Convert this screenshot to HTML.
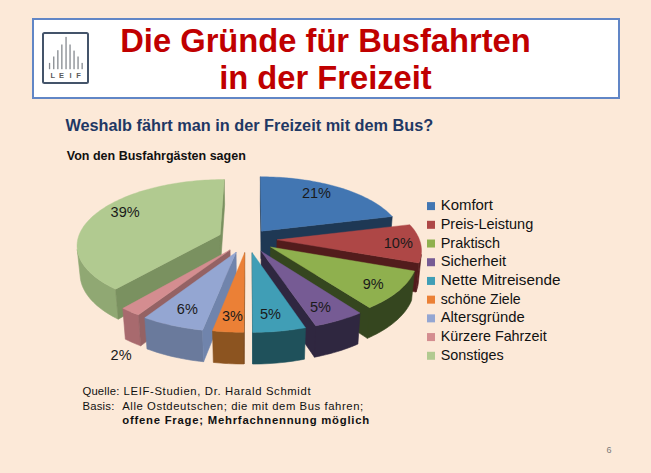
<!DOCTYPE html>
<html><head><meta charset="utf-8"><style>
html,body{margin:0;padding:0}
body{width:651px;height:473px;overflow:hidden;background:#FCE9D8;font-family:"Liberation Sans",sans-serif;position:relative}
.abs{position:absolute;white-space:nowrap}
svg{position:absolute;left:0;top:0}
.lg{font-size:15px;fill:#111;}
.pl{font-size:14.5px;fill:#1a1a1a}
</style></head><body>
<svg width="651" height="473" viewBox="0 0 651 473">
<rect x="33" y="19" width="586" height="79" fill="#fff" stroke="#6186C6" stroke-width="2"/>
<rect x="43" y="33" width="45" height="50" fill="#fff" stroke="#44546A" stroke-width="2" rx="1.5"/>
<rect x="48.9" y="62.9" width="1.3" height="6.3" fill="#868a90"/>
<rect x="53.1" y="56.5" width="1.3" height="12.7" fill="#868a90"/>
<rect x="57.2" y="50.2" width="1.3" height="19.0" fill="#868a90"/>
<rect x="61.2" y="44.5" width="1.3" height="24.7" fill="#868a90"/>
<rect x="65.4" y="36.9" width="1.3" height="32.3" fill="#868a90"/>
<rect x="69.4" y="44.5" width="1.3" height="24.7" fill="#868a90"/>
<rect x="73.4" y="50.6" width="1.3" height="18.6" fill="#868a90"/>
<rect x="77.4" y="56.5" width="1.3" height="12.7" fill="#868a90"/>
<rect x="81.5" y="62.9" width="1.3" height="6.3" fill="#868a90"/>
<g font-family="Liberation Sans" font-size="7.5" font-weight="bold" fill="#5a5a5a" text-anchor="middle"><text x="52.7" y="77.6">L</text><text x="61.6" y="77.6">E</text><text x="70.5" y="77.6">I</text><text x="78.5" y="77.6">F</text></g>
<g font-family="Liberation Sans" font-weight="bold" font-size="32.7" fill="#C00000" text-anchor="middle">
<text x="325.5" y="51.5">Die Gründe für Busfahrten</text>
<text x="325.5" y="89.3">in der Freizeit</text>
</g>
<text x="65.4" y="130.9" font-family="Liberation Sans" font-weight="bold" font-size="16.3" fill="#1F3864">Weshalb fährt man in der Freizeit mit dem Bus?</text>
<text x="66.8" y="160.4" font-family="Liberation Sans" font-weight="bold" font-size="12.5" fill="#111">Von den Busfahrgästen sagen</text>
<path d="M261.38,231.14 L260.40,176.76 L260.30,201.83 L261.25,258.73Z M261.38,231.14 L392.24,216.51 L390.00,243.44 L261.25,258.73Z" fill="#1E3854" stroke="#1E3854" stroke-width="0.6" stroke-linejoin="round"/>
<polygon points="261.38,231.14 260.40,176.76 263.59,176.78 266.78,176.83 269.96,176.91 273.14,177.02 276.32,177.17 279.48,177.34 282.65,177.55 285.80,177.79 288.94,178.07 292.07,178.37 295.19,178.71 298.29,179.08 301.38,179.48 304.45,179.91 307.50,180.37 310.53,180.87 313.54,181.39 316.52,181.95 319.49,182.54 322.42,183.16 325.33,183.81 328.21,184.49 331.06,185.20 333.88,185.94 336.66,186.72 339.41,187.52 342.12,188.35 344.80,189.21 347.43,190.11 350.03,191.03 352.58,191.98 355.09,192.96 357.55,193.96 359.97,195.00 362.33,196.06 364.65,197.15 366.91,198.27 369.12,199.41 371.28,200.58 373.38,201.78 375.42,203.00 377.40,204.24 379.32,205.52 381.17,206.81 382.96,208.13 384.68,209.47 386.34,210.84 387.92,212.22 389.44,213.63 390.88,215.06 392.24,216.51" fill="#4276B2" stroke="#4276B2" stroke-width="0.4" stroke-linejoin="round"/>
<path d="M115.58,289.17 L112.81,287.84 L110.13,286.47 L107.55,285.08 L105.07,283.65 L102.69,282.20 L100.41,280.72 L98.24,279.21 L96.17,277.68 L94.20,276.13 L92.34,274.56 L90.59,272.96 L88.94,271.35 L87.40,269.73 L85.97,268.08 L84.64,266.43 L83.43,264.76 L82.32,263.09 L81.32,261.40 L80.42,259.71 L79.63,258.01 L78.95,256.31 L78.37,254.60 L77.90,252.90 L77.53,251.19 L77.26,249.48 L80.32,277.87 L80.59,279.65 L80.96,281.43 L81.44,283.21 L82.02,284.99 L82.70,286.76 L83.49,288.53 L84.38,290.29 L85.37,292.05 L86.47,293.80 L87.68,295.53 L88.99,297.25 L90.40,298.96 L91.93,300.66 L93.55,302.33 L95.28,303.99 L97.12,305.63 L99.06,307.24 L101.10,308.84 L103.24,310.40 L105.48,311.94 L107.83,313.46 L110.27,314.94 L112.81,316.39 L115.45,317.81 L118.18,319.19Z" fill="#90A873" stroke="#90A873" stroke-width="0.6" stroke-linejoin="round"/>
<path d="M220.12,234.70 L115.58,289.17 L118.18,319.19 L220.68,262.45Z M220.12,234.70 L224.21,179.50 L224.64,204.70 L220.68,262.45Z" fill="#7A9160" stroke="#7A9160" stroke-width="0.6" stroke-linejoin="round"/>
<polygon points="220.12,234.70 115.58,289.17 112.81,287.84 110.13,286.47 107.55,285.08 105.07,283.65 102.69,282.20 100.41,280.72 98.24,279.21 96.17,277.68 94.20,276.13 92.34,274.56 90.59,272.96 88.94,271.35 87.40,269.73 85.97,268.08 84.64,266.43 83.43,264.76 82.32,263.09 81.32,261.40 80.42,259.71 79.63,258.01 78.95,256.31 78.37,254.60 77.90,252.90 77.53,251.19 77.26,249.48 77.10,247.78 77.03,246.08 77.07,244.38 77.20,242.69 77.44,241.00 77.76,239.33 78.19,237.66 78.71,236.00 79.32,234.36 80.02,232.73 80.81,231.11 81.69,229.50 82.65,227.91 83.70,226.33 84.84,224.78 86.05,223.24 87.35,221.71 88.72,220.21 90.17,218.73 91.70,217.26 93.30,215.82 94.97,214.40 96.71,213.00 98.52,211.63 100.40,210.28 102.34,208.95 104.35,207.65 106.41,206.37 108.54,205.12 110.72,203.90 112.96,202.70 115.26,201.53 117.61,200.38 120.01,199.27 122.46,198.18 124.96,197.12 127.50,196.09 130.09,195.09 132.73,194.11 135.40,193.17 138.12,192.26 140.87,191.37 143.66,190.52 146.49,189.70 149.35,188.91 152.24,188.15 155.16,187.42 158.11,186.72 161.09,186.05 164.10,185.42 167.13,184.82 170.18,184.24 173.25,183.70 176.35,183.20 179.46,182.72 182.59,182.28 185.74,181.87 188.90,181.49 192.07,181.15 195.26,180.84 198.45,180.56 201.66,180.31 204.87,180.10 208.08,179.92 211.31,179.77 214.53,179.65 217.76,179.57 220.98,179.52 224.21,179.50" fill="#B1CA90" stroke="#B1CA90" stroke-width="0.4" stroke-linejoin="round"/>
<path d="M421.28,254.39 L421.02,256.13 L420.65,257.87 L420.17,259.61 L419.60,261.35 L418.91,263.09 L415.96,292.05 L416.64,290.24 L417.22,288.43 L417.69,286.61 L418.07,284.80 L418.34,282.98Z" fill="#561D1D" stroke="#561D1D" stroke-width="0.6" stroke-linejoin="round"/>
<path d="M276.98,239.83 L418.91,263.09 L415.96,292.05 L276.58,267.80Z" fill="#521C1C" stroke="#521C1C" stroke-width="0.6" stroke-linejoin="round"/>
<polygon points="276.98,239.83 409.79,224.63 411.17,226.15 412.46,227.70 413.68,229.26 414.82,230.84 415.87,232.44 416.84,234.06 417.72,235.69 418.51,237.34 419.21,239.00 419.82,240.67 420.34,242.35 420.77,244.05 421.10,245.75 421.33,247.47 421.47,249.19 421.51,250.92 421.45,252.65 421.28,254.39 421.02,256.13 420.65,257.87 420.17,259.61 419.60,261.35 418.91,263.09" fill="#AE4746" stroke="#AE4746" stroke-width="0.4" stroke-linejoin="round"/>
<path d="M414.49,271.01 L413.68,272.77 L412.78,274.53 L411.76,276.28 L410.64,278.03 L409.42,279.76 L408.08,281.48 L406.65,283.19 L405.10,284.89 L403.45,286.57 L401.70,288.23 L399.84,289.88 L397.87,291.51 L395.80,293.11 L393.63,294.69 L391.35,296.25 L388.98,297.78 L386.50,299.28 L383.92,300.75 L381.25,302.20 L378.48,303.61 L375.62,304.98 L372.66,306.32 L369.62,307.63 L367.35,338.37 L370.35,337.02 L373.25,335.62 L376.06,334.20 L378.79,332.73 L381.41,331.23 L383.95,329.70 L386.38,328.14 L388.72,326.55 L390.96,324.93 L393.10,323.29 L395.14,321.62 L397.08,319.93 L398.91,318.22 L400.64,316.49 L402.27,314.74 L403.80,312.98 L405.22,311.20 L406.53,309.41 L407.75,307.60 L408.86,305.79 L409.86,303.97 L410.77,302.14 L411.57,300.30Z M270.54,246.99 L369.62,307.63 L367.35,338.37 L270.24,275.27Z" fill="#35461F" stroke="#35461F" stroke-width="0.6" stroke-linejoin="round"/>
<polygon points="270.54,246.99 414.49,271.01 413.68,272.77 412.78,274.53 411.76,276.28 410.64,278.03 409.42,279.76 408.08,281.48 406.65,283.19 405.10,284.89 403.45,286.57 401.70,288.23 399.84,289.88 397.87,291.51 395.80,293.11 393.63,294.69 391.35,296.25 388.98,297.78 386.50,299.28 383.92,300.75 381.25,302.20 378.48,303.61 375.62,304.98 372.66,306.32 369.62,307.63" fill="#8FB04E" stroke="#8FB04E" stroke-width="0.4" stroke-linejoin="round"/>
<path d="M138.45,314.85 L135.14,313.64 L131.92,312.38 L128.79,311.08 L125.75,309.75 L122.80,308.37 L125.35,339.15 L128.25,340.57 L131.23,341.96 L134.31,343.30 L137.47,344.61 L140.72,345.87Z" fill="#A86A6E" stroke="#A86A6E" stroke-width="0.6" stroke-linejoin="round"/>
<path d="M230.07,249.92 L138.45,314.85 L140.72,345.87 L230.48,278.32Z" fill="#946264" stroke="#946264" stroke-width="0.6" stroke-linejoin="round"/>
<polygon points="230.07,249.92 138.45,314.85 135.14,313.64 131.92,312.38 128.79,311.08 125.75,309.75 122.80,308.37" fill="#D48D90" stroke="#D48D90" stroke-width="0.4" stroke-linejoin="round"/>
<path d="M360.03,313.08 L356.78,314.40 L353.44,315.67 L350.01,316.90 L346.49,318.09 L342.90,319.22 L339.22,320.31 L335.47,321.35 L331.65,322.34 L327.76,323.28 L323.80,324.16 L319.78,324.99 L315.71,325.77 L314.45,357.19 L318.45,356.39 L322.39,355.53 L326.27,354.61 L330.08,353.64 L333.83,352.62 L337.51,351.54 L341.11,350.41 L344.64,349.23 L348.09,348.00 L351.46,346.72 L354.74,345.40 L357.93,344.04Z M261.16,251.25 L315.71,325.77 L314.45,357.19 L261.02,279.72Z" fill="#2F2740" stroke="#2F2740" stroke-width="0.6" stroke-linejoin="round"/>
<polygon points="261.16,251.25 360.03,313.08 356.78,314.40 353.44,315.67 350.01,316.90 346.49,318.09 342.90,319.22 339.22,320.31 335.47,321.35 331.65,322.34 327.76,323.28 323.80,324.16 319.78,324.99 315.71,325.77" fill="#765B94" stroke="#765B94" stroke-width="0.4" stroke-linejoin="round"/>
<path d="M202.55,330.15 L198.34,329.70 L194.16,329.19 L190.03,328.62 L185.94,328.00 L181.89,327.33 L177.90,326.60 L173.96,325.82 L170.07,324.98 L166.25,324.09 L162.50,323.15 L158.81,322.17 L155.19,321.13 L151.65,320.05 L148.19,318.92 L144.80,317.75 L146.96,348.88 L150.28,350.09 L153.68,351.26 L157.16,352.39 L160.70,353.46 L164.32,354.48 L168.00,355.46 L171.75,356.38 L175.56,357.24 L179.42,358.06 L183.33,358.81 L187.30,359.51 L191.31,360.16 L195.36,360.74 L199.46,361.27 L203.58,361.73Z" fill="#6A7A9C" stroke="#6A7A9C" stroke-width="0.6" stroke-linejoin="round"/>
<path d="M236.08,252.15 L202.55,330.15 L203.58,361.73 L236.38,280.65Z" fill="#7084AC" stroke="#7084AC" stroke-width="0.6" stroke-linejoin="round"/>
<polygon points="236.08,252.15 202.55,330.15 198.34,329.70 194.16,329.19 190.03,328.62 185.94,328.00 181.89,327.33 177.90,326.60 173.96,325.82 170.07,324.98 166.25,324.09 162.50,323.15 158.81,322.17 155.19,321.13 151.65,320.05 148.19,318.92 144.80,317.75" fill="#94A6D2" stroke="#94A6D2" stroke-width="0.4" stroke-linejoin="round"/>
<path d="M305.50,327.70 L301.63,328.38 L297.71,329.00 L293.75,329.58 L289.75,330.10 L285.72,330.57 L281.66,330.99 L277.58,331.35 L273.47,331.66 L269.34,331.92 L265.20,332.12 L261.05,332.27 L256.88,332.36 L252.72,332.39 L252.73,364.06 L256.81,364.02 L260.89,363.93 L264.96,363.78 L269.02,363.57 L273.06,363.30 L277.08,362.98 L281.09,362.60 L285.06,362.17 L289.01,361.68 L292.93,361.14 L296.81,360.55 L300.65,359.90 L304.45,359.20Z" fill="#1F515B" stroke="#1F515B" stroke-width="0.6" stroke-linejoin="round"/>
<path d="M252.20,252.69 L252.72,332.39 L252.73,364.06 L252.22,281.22Z" fill="#1E5662" stroke="#1E5662" stroke-width="0.6" stroke-linejoin="round"/>
<polygon points="252.20,252.69 305.50,327.70 301.63,328.38 297.71,329.00 293.75,329.58 289.75,330.10 285.72,330.57 281.66,330.99 277.58,331.35 273.47,331.66 269.34,331.92 265.20,332.12 261.05,332.27 256.88,332.36 252.72,332.39" fill="#409EB6" stroke="#409EB6" stroke-width="0.4" stroke-linejoin="round"/>
<path d="M243.88,332.31 L239.92,332.30 L235.97,332.23 L232.02,332.12 L228.09,331.95 L224.17,331.74 L220.26,331.48 L216.37,331.17 L212.51,330.81 L213.34,362.42 L217.13,362.79 L220.93,363.11 L224.76,363.38 L228.60,363.61 L232.46,363.78 L236.32,363.89 L240.19,363.96 L244.07,363.98Z" fill="#8C5420" stroke="#8C5420" stroke-width="0.6" stroke-linejoin="round"/>
<path d="M244.64,252.63 L243.88,332.31 L244.07,363.98 L244.80,281.15Z" fill="#7A4A20" stroke="#7A4A20" stroke-width="0.6" stroke-linejoin="round"/>
<polygon points="244.64,252.63 243.88,332.31 239.92,332.30 235.97,332.23 232.02,332.12 228.09,331.95 224.17,331.74 220.26,331.48 216.37,331.17 212.51,330.81" fill="#EB8036" stroke="#EB8036" stroke-width="0.4" stroke-linejoin="round"/>
<g class="pl" font-family="Liberation Sans"><text x="316.5" y="198.4" text-anchor="middle">21%</text>
<text x="398.3" y="248.4" text-anchor="middle">10%</text>
<text x="373.2" y="288.9" text-anchor="middle">9%</text>
<text x="320.5" y="311.6" text-anchor="middle">5%</text>
<text x="270.4" y="319.2" text-anchor="middle">5%</text>
<text x="232.5" y="320.6" text-anchor="middle">3%</text>
<text x="187.3" y="313.7" text-anchor="middle">6%</text>
<text x="121.1" y="360" text-anchor="middle">2%</text>
<text x="125.1" y="216.7" text-anchor="middle">39%</text></g>
<g font-family="Liberation Sans"><rect x="427" y="202.10" width="8" height="8" fill="#4276B2"/>
<text x="440.7" y="210.10" class="lg" textLength="52.3" lengthAdjust="spacingAndGlyphs">Komfort</text>
<rect x="427" y="220.81" width="8" height="8" fill="#AE4746"/>
<text x="440.7" y="228.81" class="lg" textLength="92.5" lengthAdjust="spacingAndGlyphs">Preis-Leistung</text>
<rect x="427" y="239.52" width="8" height="8" fill="#8FB04E"/>
<text x="440.7" y="247.52" class="lg" textLength="59.4" lengthAdjust="spacingAndGlyphs">Praktisch</text>
<rect x="427" y="258.23" width="8" height="8" fill="#765B94"/>
<text x="440.7" y="266.23" class="lg" textLength="65.4" lengthAdjust="spacingAndGlyphs">Sicherheit</text>
<rect x="427" y="276.94" width="8" height="8" fill="#409EB6"/>
<text x="440.7" y="284.94" class="lg" textLength="119.7" lengthAdjust="spacingAndGlyphs">Nette Mitreisende</text>
<rect x="427" y="295.65" width="8" height="8" fill="#EB8036"/>
<text x="440.7" y="303.65" class="lg" textLength="80.0" lengthAdjust="spacingAndGlyphs">schöne Ziele</text>
<rect x="427" y="314.36" width="8" height="8" fill="#94A6D2"/>
<text x="440.7" y="322.36" class="lg" textLength="84.0" lengthAdjust="spacingAndGlyphs">Altersgründe</text>
<rect x="427" y="333.07" width="8" height="8" fill="#D48D90"/>
<text x="440.7" y="341.07" class="lg" textLength="106.0" lengthAdjust="spacingAndGlyphs">Kürzere Fahrzeit</text>
<rect x="427" y="351.78" width="8" height="8" fill="#B1CA90"/>
<text x="440.7" y="359.78" class="lg" textLength="63.1" lengthAdjust="spacingAndGlyphs">Sonstiges</text></g>
<g font-family="Liberation Sans" font-size="11.3" fill="#111">
<text x="82.4" y="395.2" textLength="37" lengthAdjust="spacing">Quelle:</text><text x="123.6" y="395.2" textLength="187" lengthAdjust="spacing">LEIF-Studien, Dr. Harald Schmidt</text>
<text x="82.4" y="409.6" textLength="32" lengthAdjust="spacing">Basis:</text><text x="122.2" y="409.6" textLength="241" lengthAdjust="spacing">Alle Ostdeutschen; die mit dem Bus fahren;</text>
<text x="122.2" y="424.2" font-weight="bold" textLength="247" lengthAdjust="spacing">offene Frage; Mehrfachnennung möglich</text>
</g>
<text x="609" y="452.6" font-family="Liberation Sans" font-size="9" fill="#7a7a7a" text-anchor="middle">6</text>
</svg>
</body></html>
